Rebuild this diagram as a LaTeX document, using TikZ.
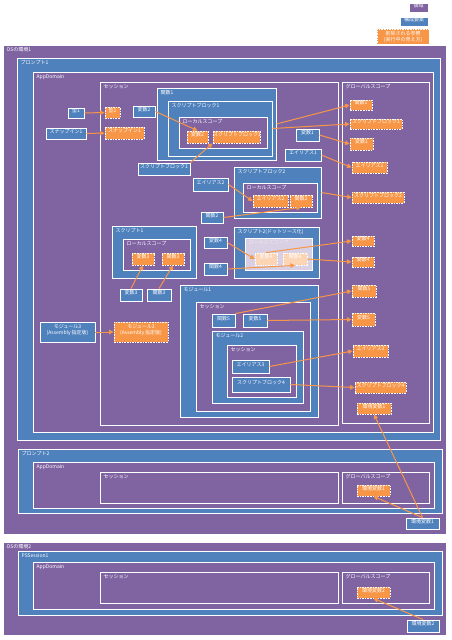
\documentclass[tikz,border=0pt]{standalone}
\usepackage{fontspec}
\newfontfamily\jpfont{Noto Sans CJK JP}
\usetikzlibrary{fit,arrows.meta,shadows}
\definecolor{areapurple}{HTML}{8064A2}
\definecolor{partblue}{HTML}{4F81BD}
\definecolor{reforange}{HTML}{F79646}

\begin{document}
\begin{tikzpicture}[x=1pt, y=-1pt,
    font=\jpfont\fontsize{5}{6}\selectfont,
    softshadow/.style={drop shadow={shadow xshift=0.6pt, shadow yshift=-0.6pt, opacity=0.45}},
    osarea/.style={draw=white, line width=1.2pt, fill=areapurple, inner sep=0pt,
      preaction={draw=black!20, line width=2.4pt}},
    area/.style={draw=white, line width=1pt, fill=areapurple, inner sep=0pt, softshadow},
    fadearea/.style={draw=white, line width=1pt, fill=areapurple!30!white, inner sep=0pt},
    part/.style={draw=white, line width=1pt, fill=partblue, inner sep=0pt, softshadow},
    comp/.style={draw=white, line width=0.9pt, fill=partblue, text=white, inner sep=0pt, softshadow},
    refbox/.style={draw=white, line width=0.8pt, dash pattern=on 1.6pt off 1pt,
      fill=reforange, text=white, inner sep=0pt},
    faderef/.style={refbox, fill=reforange!40!white},
    lbl/.style={anchor=north west, text=white, inner sep=0pt, xshift=4pt, yshift=-3pt},
    link/.style={draw=reforange, line width=1pt, -{Triangle[length=4.5pt, width=4.5pt]}}
  ]
  \fill[white] (0,0) rectangle (451,640);
  \useasboundingbox (0,0) rectangle (451,640);

  % Legend
  \node[area, text=white, fit={(409,3) (428,12)}] (lgarea) {領域};
  \node[comp, fit={(400,17) (428,26)}] (lgpart) {構成要素};
  \node[refbox, align=left, fit={(377,29) (429,48)}] (lgref) {削除される参照\\(実行中の見え方)};

  % Regions: OS 1
  \node[osarea, fit={(3,45) (447,535)}] (os1) {};
  \node[lbl] (os1t) at (os1.north west) {OSの環境1};
  \node[part, fit={(17,58) (440,440)}] (prompt1) {};
  \node[lbl] (prompt1t) at (prompt1.north west) {プロンプト1};
  \node[area, fit={(33,72) (433,432)}] (app1) {};
  \node[lbl] (app1t) at (app1.north west) {AppDomain};
  \node[area, fit={(100,82) (338,425)}] (sess1) {};
  \node[lbl] (sess1t) at (sess1.north west) {セッション};
  \node[area, fit={(342,82) (429,423)}] (glob1) {};
  \node[lbl] (glob1t) at (glob1.north west) {グローバルスコープ};

  \node[part, fit={(157,88) (276,160)}] (func1) {};
  \node[lbl] (func1t) at (func1.north west) {関数1};
  \node[part, fit={(168,101) (272,156)}] (sbk1) {};
  \node[lbl] (sbk1t) at (sbk1.north west) {スクリプトブロック1};
  \node[area, fit={(179,117) (267,148)}] (loc1) {};
  \node[lbl] (loc1t) at (loc1.north west) {ローカルスコープ};

  \node[part, fit={(234,167) (321,218)}] (sbk2) {};
  \node[lbl] (sbk2t) at (sbk2.north west) {スクリプトブロック2};
  \node[area, fit={(243,183) (317,212)}] (loc2) {};
  \node[lbl] (loc2t) at (loc2.north west) {ローカルスコープ};

  \node[part, fit={(112,226) (196,278)}] (scr1) {};
  \node[lbl] (scr1t) at (scr1.north west) {スクリプト1};
  \node[area, fit={(123,239) (190,270)}] (loc3) {};
  \node[lbl] (loc3t) at (loc3.north west) {ローカルスコープ};

  \node[part, fit={(234,227) (319,278)}] (scr2) {};
  \node[lbl] (scr2t) at (scr2.north west) {スクリプト2(ドットソース化)};
  \node[fadearea, fit={(245,238) (312,270)}] (loc4) {};
  \node[lbl, text=white!85!areapurple] (loc4t) at (loc4.north west) {ローカルスコープ};

  \node[part, fit={(180,285) (318,417)}] (mod1) {};
  \node[lbl] (mod1t) at (mod1.north west) {モジュール1};
  \node[area, fit={(196,302) (310,411)}] (sess2) {};
  \node[lbl] (sess2t) at (sess2.north west) {セッション};
  \node[part, fit={(212,331) (303,403)}] (mod2) {};
  \node[lbl] (mod2t) at (mod2.north west) {モジュール2};
  \node[area, fit={(227,345) (296,397)}] (sess3) {};
  \node[lbl] (sess3t) at (sess3.north west) {セッション};

  \node[part, fit={(18,449) (442,513)}] (prompt2) {};
  \node[lbl] (prompt2t) at (prompt2.north west) {プロンプト2};
  \node[area, fit={(33,462) (434,508)}] (app2) {};
  \node[lbl] (app2t) at (app2.north west) {AppDomain};
  \node[area, fit={(100,472) (338,503)}] (sess4) {};
  \node[lbl] (sess4t) at (sess4.north west) {セッション};
  \node[area, fit={(342,472) (429,503)}] (glob2) {};
  \node[lbl] (glob2t) at (glob2.north west) {グローバルスコープ};

  % Regions: OS 2
  \node[osarea, fit={(3,542) (447,636)}] (os2) {};
  \node[lbl] (os2t) at (os2.north west) {OSの環境2};
  \node[part, fit={(18,551) (442,615)}] (pss) {};
  \node[lbl] (psst) at (pss.north west) {PSSession1};
  \node[area, fit={(33,562) (434,609)}] (app3) {};
  \node[lbl] (app3t) at (app3.north west) {AppDomain};
  \node[area, fit={(100,572) (338,603)}] (sess5) {};
  \node[lbl] (sess5t) at (sess5.north west) {セッション};
  \node[area, fit={(342,572) (429,603)}] (glob3) {};
  \node[lbl] (glob3t) at (glob3.north west) {グローバルスコープ};

  % Components
  \node[comp, fit={(68,108) (84,118)}] (type1) {型1};
  \node[comp, fit={(46,128) (86,139)}] (snap1) {スナップイン1};
  \node[comp, fit={(133,106) (155,117)}] (var2) {変数2};
  \node[comp, fit={(138,163) (190,175)}] (blk1) {スクリプトブロック1};
  \node[comp, fit={(296,129) (319,141)}] (var1) {変数1};
  \node[comp, fit={(285,149) (321,161)}] (alias1) {エイリアス1};
  \node[comp, fit={(193,178) (228,191)}] (alias2) {エイリアス2};
  \node[comp, fit={(201,212) (223,223)}] (fn2) {関数2};
  \node[comp, fit={(204,237) (227,248)}] (var4) {変数4};
  \node[comp, fit={(204,263) (227,275)}] (fn4) {関数4};
  \node[comp, fit={(120,289) (142,301)}] (var3) {変数3};
  \node[comp, fit={(147,289) (171,301)}] (fn3) {関数3};
  \node[comp, align=left, fit={(40,322) (95,342)}] (mod3) {モジュール3\\(Assembly 指定版)};
  \node[comp, fit={(212,314) (235,327)}] (fn5) {関数5};
  \node[comp, fit={(243,314) (267,327)}] (var5) {変数5};
  \node[comp, fit={(232,360) (269,373)}] (alias3) {エイリアス3};
  \node[comp, fit={(232,377) (290,392)}] (blk4) {スクリプトブロック4};
  \node[comp, fit={(406,518) (439,529)}] (env1) {環境変数1};
  \node[comp, fit={(407,620) (439,632)}] (env2) {環境変数2};

  % References
  \node[refbox, fit={(105,107) (120,118)}] (type1r) {型1};
  \node[refbox, fit={(105,127) (144,139)}] (snap1r) {スナップイン1};
  \node[refbox, fit={(187,131) (208,143)}] (var2r) {変数2};
  \node[refbox, fit={(213,131) (260,143)}] (blk1r) {スクリプトブロック1};
  \node[refbox, fit={(253,195) (288,207)}] (alias2r) {エイリアス2};
  \node[refbox, fit={(290,195) (312,207)}] (fn2r) {関数2};
  \node[refbox, fit={(132,253) (154,265)}] (var3r) {変数3};
  \node[refbox, fit={(162,253) (184,265)}] (fn3r) {関数3};
  \node[faderef, fit={(255,253) (277,265)}] (var4r) {変数4};
  \node[faderef, fit={(283,253) (307,265)}] (fn4r) {関数4};
  \node[refbox, align=left, fit={(114,322) (168,342)}] (mod3r) {モジュール3\\(Assembly 指定版)};
  \node[refbox, fit={(350,100) (372,110)}] (fn1g) {関数1};
  \node[refbox, fit={(350,119) (402,129)}] (blk1g) {スクリプトブロック1};
  \node[refbox, fit={(350,138) (373,150)}] (var1g) {変数1};
  \node[refbox, fit={(352,162) (387,173)}] (alias1g) {エイリアス1};
  \node[refbox, fit={(352,192) (404,203)}] (blk2g) {スクリプトブロック2};
  \node[refbox, fit={(352,236) (374,246)}] (var4g) {変数4};
  \node[refbox, fit={(352,257) (374,267)}] (fn4g) {関数4};
  \node[refbox, fit={(352,285) (376,297)}] (fn5g) {関数5};
  \node[refbox, fit={(352,313) (375,326)}] (var5g) {変数5};
  \node[refbox, fit={(353,345) (388,357)}] (alias3g) {エイリアス3};
  \node[refbox, fit={(355,382) (406,393)}] (blk4g) {スクリプトブロック4};
  \node[refbox, fit={(357,403) (391,414)}] (env1g) {環境変数1};
  \node[refbox, fit={(357,485) (390,496)}] (env1p) {環境変数1};
  \node[refbox, fit={(357,587) (390,598)}] (env2r) {環境変数2};

  % Edges
  \draw[link] (type1) -- (type1r);
  \draw[link] (snap1) -- (snap1r);
  \draw[link] (var2.east) -- (var2r.north);
  \draw[link] (blk1.north east) -- (blk1r.south west);
  \draw[link] (func1.east) -- (fn1g.west);
  \draw[link] (sbk1.east) -- (blk1g.west);
  \draw[link] (var1.east) -- (var1g.west);
  \draw[link] (alias1.east) -- (alias1g.west);
  \draw[link] (alias2.east) -- (alias2r.west);
  \draw[link] (fn2.east) -- (fn2r.south);
  \draw[link] (sbk2.east) -- (blk2g.west);
  \draw[link] (var4.east) -- (var4r.west);
  \draw[link] (var4r.north) -- (var4g.west);
  \draw[link] (fn4.east) -- (fn4r.south);
  \draw[link] (fn4r.east) -- (fn4g.west);
  \draw[link] (var3.north) -- (var3r.south);
  \draw[link] (fn3.north) -- (fn3r.south);
  \draw[link] (mod3) -- (mod3r);
  \draw[link] (fn5.north east) -- (fn5g.west);
  \draw[link] (var5.east) -- (var5g.west);
  \draw[link] (alias3.east) -- (alias3g.west);
  \draw[link] (blk4.east) -- (blk4g.west);
  \draw[link] (env1.north) -- (env1g.south);
  \draw[link] (env1.north) -- (env1p.south);
  \draw[link] (env2.north) -- (env2r.south);
\end{tikzpicture}
\end{document}
